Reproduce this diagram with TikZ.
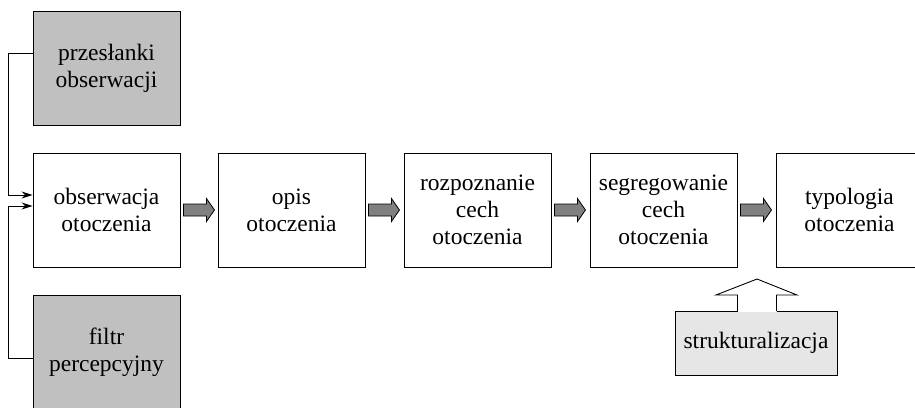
\documentclass[tikz,border=0pt]{standalone}
\usepackage{fontspec}
\setmainfont{Liberation Serif}
\usetikzlibrary{calc,arrows.meta}
\definecolor{boxgray}{HTML}{C0C0C0}
\definecolor{flowgray}{HTML}{808080}
\definecolor{softgray}{HTML}{E6E6E6}
\begin{document}
\begin{tikzpicture}[x=1pt,y=-1pt,
  stepbox/.style={draw=black,line width=0.9pt,fill=white,minimum width=147pt,minimum height=114pt,
    align=center,inner sep=0pt,font=\fontsize{23.5}{27}\selectfont},
  inputbox/.style={stepbox,fill=boxgray},
  feed/.style={line width=0.8pt,-{Stealth[length=11pt,width=7pt]}},
  flowarrow/.style={draw=black,line width=0.8pt,fill=flowgray}]
\useasboundingbox (0,0) rectangle (915,407);
\begin{scope}
\clip (0,0) rectangle (915,407);
% input boxes and the chain of steps
\node[inputbox] (prem) at (106.5,68) {przesłanki\\obserwacji};
\node[stepbox] (obs) at (106.5,210) {obserwacja\\otoczenia};
\node[inputbox] (filt) at (106.5,352) {filtr\\percepcyjny};
\node[stepbox] (opis) at (291.5,210) {opis\\otoczenia};
\node[stepbox] (rozp) at (477.5,210) {rozpoznanie\\cech\\otoczenia};
\node[stepbox] (segr) at (663.5,210) {segregowanie\\cech\\otoczenia};
\node[stepbox] (typo) at (849.5,210) {typologia\\otoczenia};
% feeds into the observation step
\draw[feed] ($(prem.west)+(0,-15)$) -| (8,195) -- (obs.west |- 0,195);
\draw[feed] ($(filt.west)+(0,6)$) -| (8,206) -- (obs.west |- 0,206);
% block arrows between steps
\foreach \a/\b in {obs/opis,rozp/segr,opis/rozp,segr/typo}{
  \path[flowarrow] ($(\a.east)+(3,-6)$) -- ++(23,0) -- ++(0,-5.5) -- ++(8,11.5)
     -- ++(-8,11.5) -- ++(0,-5.5) -- ++(-23,0) -- cycle;
}
% structuring input with its upward arrow
\node[draw=black,line width=0.9pt,fill=softgray,minimum width=162pt,minimum height=64pt,inner sep=0pt,
  font=\fontsize{23.5}{27}\selectfont] (stru) at (756,343) {strukturalizacja};
\fill[white] (737.5,296) rectangle (776.5,312);
\draw[line width=0.9pt,fill=white] (737.5,311) -- (737.5,295) -- (716,295) -- (757,279)
  -- (797,295) -- (776.5,295) -- (776.5,311);
\end{scope}
\end{tikzpicture}
\end{document}
